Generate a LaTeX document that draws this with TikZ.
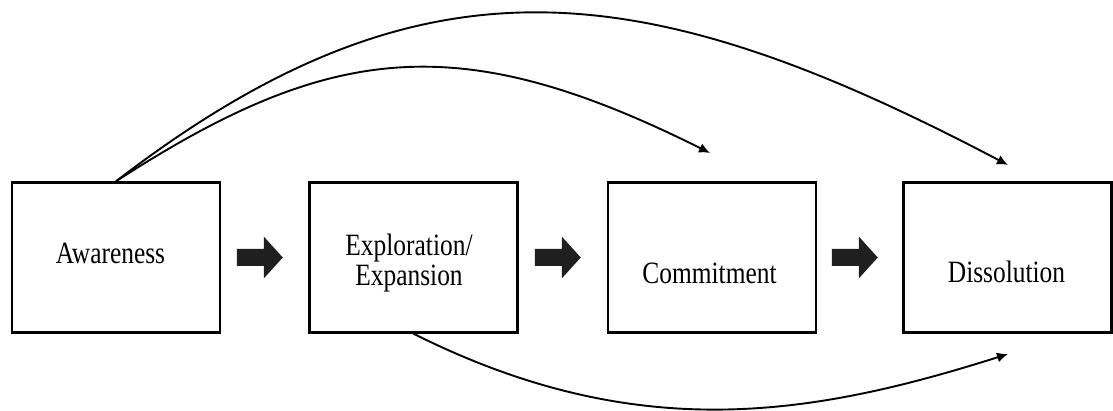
\documentclass[tikz,border=0pt]{standalone}
\usepackage{fontspec}
\setmainfont{Liberation Serif}[FakeStretch=0.82]
\usetikzlibrary{arrows.meta,calc}

\tikzset{
  stage/.style={draw=black, line width=2.4pt, fill=white,
    minimum width=208pt, minimum height=150pt, inner sep=0pt},
  stagetext/.style={font=\fontsize{31pt}{30pt}\selectfont, inner sep=0pt, align=center},
  link/.style={line width=1.9pt, -{Latex[length=11pt,width=10pt]}},
  blockarrow/.pic={
    \fill[black!88] (-23,-8.5) -- (4,-8.5) -- (4,-21) -- (23,0)
      -- (4,21) -- (4,8.5) -- (-23,8.5) -- cycle;
  }
}

\begin{document}
\begin{tikzpicture}[x=1pt, y=-1pt]
  \useasboundingbox (0,0) rectangle (1113,411);

  % the four stages
  \node[stage] (aw) at (116,257.5) {};
  \node[stage] (ex) at (413.5,257.5) {};
  \node[stage] (cm) at (712,257.5) {};
  \node[stage] (ds) at (1007.5,257.5) {};

  \node[stagetext, anchor=base] (awt) at (110.5,264) {Awareness};
  \node[stagetext, anchor=center] (ext) at (409,263) {Exploration/\\Expansion};
  \node[stagetext, anchor=base] (cmt) at (709.5,284) {Commitment};
  \node[stagetext, anchor=base] (dst) at (1006.5,283) {Dissolution};

  % block arrows between neighbouring stages
  \path ($(aw.east)!0.5!(ex.west)+(-5,0)$) pic {blockarrow};
  \path ($(ex.east)!0.5!(cm.west)+(-5,0)$) pic {blockarrow};
  \path ($(cm.east)!0.5!(ds.west)+(-5,0)$) pic {blockarrow};

  % free ends of the curved links
  \coordinate (cmin) at (710,153);
  \coordinate (dsin) at (1008,165);
  \coordinate (dsbot) at (1008,354);

  % curved links
  \draw[link] (aw.north) .. controls (331,42) and (460,28) .. (cmin);
  \draw[link] (aw.north) .. controls (422,-54) and (643,-27) .. (dsin);
  \draw[link] (ex.south) .. controls (636,445) and (809,417) .. (dsbot);
\end{tikzpicture}
\end{document}
